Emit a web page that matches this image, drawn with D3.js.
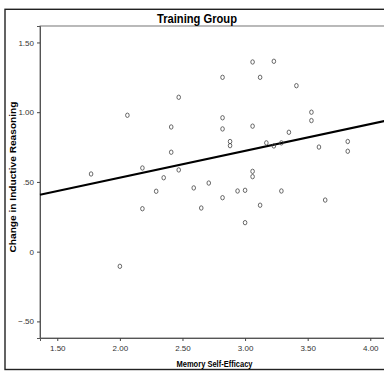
<!DOCTYPE html>
<meta charset="utf-8">
<style>
body { margin: 0; background: #fff; }
text { font-family: "Liberation Sans Narrow", "Arial Narrow", "Liberation Sans", sans-serif; }
.tick text { fill: #333; font-size: 8px; }
.tick line { stroke: #444; }
.domain { stroke: #555; }
.dot { fill: none; stroke: #444; stroke-width: 0.8; }
</style>
<body>
<script src="https://d3js.org/d3.v7.min.js"></script>
<script>

// data
var selfEfficacy = [3.06, 3.23, 2.82, 3.12, 3.41, 2.47, 3.53, 3.53, 2.06, 2.82,
  2.41, 2.82, 3.06, 3.35, 2.88, 2.88, 3.17, 3.23, 3.29, 3.59,
  3.82, 3.82, 2.41, 1.77, 2.18, 2.47, 2.35, 3.06, 3.06, 2.71,
  2.59, 2.29, 2.94, 3.00, 3.29, 2.82, 2.18, 2.65, 3.12, 3.64,
  3.00, 2.00];
var reasoningChange = [1.36, 1.365, 1.25, 1.25, 1.19, 1.107, 1.00, 0.94, 0.978, 0.96,
  0.894, 0.88, 0.90, 0.856, 0.79, 0.76, 0.78, 0.758, 0.78, 0.75,
  0.79, 0.72, 0.713, 0.557, 0.60, 0.586, 0.53, 0.576, 0.538, 0.492,
  0.457, 0.433, 0.435, 0.44, 0.435, 0.387, 0.308, 0.313, 0.333, 0.37,
  0.208, -0.105];
var fitLine = {intercept: 0.147, slope: 0.192};
var xTicks = [1.5, 2.0, 2.5, 3.0, 3.5, 4.0];
var yTicks = [-0.5, 0, 0.5, 1.0, 1.5];

var W = 384, H = 371;
var plotLeft = 40, plotTop = 26, plotBottom = 338;

var x = d3.scaleLinear().domain([1.362, 4.2]).range([plotLeft, plotLeft + 2.838 * 125.2]);
var y = d3.scaleLinear().domain([-0.619, 1.618]).range([plotBottom, plotTop]);

var svg = d3.select("body").append("svg")
    .attr("width", W)
    .attr("height", H);

// outer frame (runs off the right edge like the original)
svg.append("rect")
    .attr("x", 5).attr("y", 9.3)
    .attr("width", 400).attr("height", 360.2)
    .attr("fill", "none").attr("stroke", "#222").attr("stroke-width", 1.4);

// plot frame
svg.append("rect")
    .attr("x", plotLeft).attr("y", plotTop)
    .attr("width", 400).attr("height", plotBottom - plotTop)
    .attr("fill", "none").attr("stroke", "#666").attr("stroke-width", 0.9);

svg.append("g")
    .attr("transform", "translate(0," + plotBottom + ")")
    .call(d3.axisBottom(x).tickValues(xTicks).tickSize(3).tickPadding(4)
      .tickFormat(d3.format(".2f")));

function yfmt(d) {
  if (d === 0) return "0";
  return d3.format(".2f")(d).replace("0.", ".");
}
svg.append("g")
    .attr("transform", "translate(" + plotLeft + ",0)")
    .call(d3.axisLeft(y).tickValues(yTicks).tickSize(3).tickPadding(3).tickFormat(yfmt));

// regression line
var xd = x.domain();
svg.append("line")
    .attr("x1", x(xd[0])).attr("y1", y(fitLine.intercept + fitLine.slope * xd[0]))
    .attr("x2", x(xd[1])).attr("y2", y(fitLine.intercept + fitLine.slope * xd[1]))
    .attr("stroke", "#000").attr("stroke-width", 2);

svg.selectAll(".dot")
    .data(selfEfficacy)
  .enter().append("ellipse")
    .attr("class", "dot")
    .attr("cx", function(d) { return x(d); })
    .attr("cy", function(d, i) { return y(reasoningChange[i]); })
    .attr("rx", 1.8).attr("ry", 2.2);

svg.append("text")
    .attr("x", 197).attr("y", 23)
    .attr("text-anchor", "middle")
    .attr("textLength", 80).attr("lengthAdjust", "spacingAndGlyphs")
    .style("font-size", "13px").style("font-weight", "bold")
    .text("Training Group");

svg.append("text")
    .attr("x", 214.5).attr("y", 367)
    .attr("text-anchor", "middle")
    .attr("textLength", 76).attr("lengthAdjust", "spacingAndGlyphs")
    .style("font-size", "9px").style("font-weight", "bold")
    .text("Memory Self-Efficacy");

svg.append("text")
    .attr("transform", "translate(16,177) rotate(-90)")
    .attr("text-anchor", "middle")
    .attr("textLength", 151).attr("lengthAdjust", "spacingAndGlyphs")
    .style("font-size", "9.5px").style("font-weight", "bold")
    .text("Change in Inductive Reasoning");

</script>
</body>
